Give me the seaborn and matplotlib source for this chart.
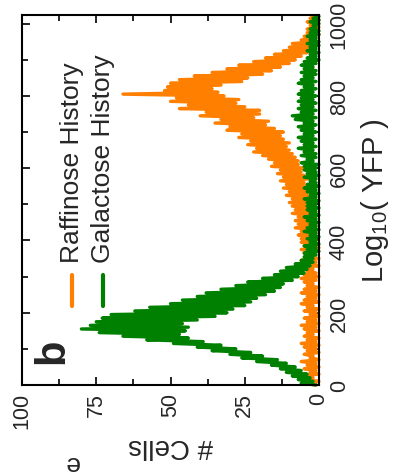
import numpy as np
import pandas as pd
import matplotlib
matplotlib.use("Agg")
import matplotlib.pyplot as plt
from matplotlib.lines import Line2D
from matplotlib.ticker import MultipleLocator
import seaborn as sns

# ---------------- data ----------------
yfp = list(range(0, 1025, 5))  # YFP channel, step 5

galactose = [
    1, 6, 2, 7, 3, 9, 4, 11, 6, 13, 8, 16, 11, 21, 14, 26, 19, 30, 23, 36,
    28, 41, 33, 49, 39, 58, 44, 66, 47, 74, 45, 80, 44, 77, 46, 75, 41, 73, 35, 70,
    31, 62, 29, 57, 25, 50, 23, 46, 21, 41, 18, 38, 15, 33, 13, 28, 12, 24, 9, 19,
    7, 15, 5, 13, 4, 11, 3, 8, 2, 6, 2, 5, 1, 5, 0, 4, 1, 5, 0, 3,
    1, 4, 0, 3, 1, 5, 0, 4, 1, 3, 0, 4, 1, 5, 0, 3, 1, 4, 0, 4,
    1, 4, 0, 5, 1, 3, 0, 4, 1, 5, 0, 4, 1, 3, 1, 5, 0, 4, 1, 5,
    1, 5, 0, 6, 2, 4, 1, 6, 1, 5, 2, 7, 1, 5, 2, 6, 1, 7, 2, 5,
    1, 6, 2, 7, 1, 5, 2, 8, 1, 9, 2, 6, 1, 7, 2, 6, 1, 7, 2, 6,
    1, 7, 2, 6, 1, 5, 2, 7, 1, 6, 2, 5, 1, 6, 1, 5, 2, 6, 1, 5,
    0, 4, 1, 3, 0, 4, 1, 3, 0, 4, 0, 3, 1, 4, 0, 3, 0, 3, 1, 2,
    0, 3, 0, 2, 0,
]

raffinose = [
    1, 5, 0, 4, 2, 6, 0, 3, 1, 5, 0, 4, 1, 6, 0, 3, 2, 5, 0, 4,
    1, 5, 0, 6, 1, 4, 0, 5, 2, 4, 0, 5, 1, 6, 0, 4, 1, 5, 0, 3,
    1, 5, 0, 4, 2, 6, 0, 5, 1, 4, 0, 6, 1, 5, 0, 4, 2, 5, 1, 6,
    0, 5, 1, 4, 2, 6, 0, 5, 1, 6, 0, 4, 2, 5, 1, 6, 0, 5, 2, 6,
    1, 6, 2, 7, 1, 6, 2, 8, 1, 7, 2, 8, 3, 7, 2, 9, 3, 8, 2, 9,
    3, 10, 2, 9, 3, 11, 4, 10, 3, 12, 4, 11, 5, 13, 4, 12, 5, 14, 6, 13,
    5, 16, 7, 15, 7, 17, 8, 19, 9, 22, 10, 21, 11, 24, 10, 23, 12, 27, 13, 26,
    12, 31, 15, 30, 18, 35, 17, 33, 22, 40, 20, 38, 20, 47, 25, 44, 28, 50, 27, 48,
    32, 66, 34, 52, 36, 51, 33, 50, 26, 47, 24, 42, 19, 36, 16, 31, 13, 27, 10, 22,
    8, 18, 6, 15, 4, 12, 3, 10, 2, 9, 1, 6, 1, 5, 0, 4, 1, 4, 0, 3,
    1, 4, 0, 3, 1,
]

series_names = ["Raffinose History", "Galactose History"]
series_colors = ["#FF8000", "#008000"]
x_ticks = [0, 25, 50, 75, 100]
y_ticks = [0, 200, 400, 600, 800, 1000]

df = pd.concat([
    pd.DataFrame({"YFP": yfp, "Cells": raffinose, "History": series_names[0]}),
    pd.DataFrame({"YFP": yfp, "Cells": galactose, "History": series_names[1]}),
], ignore_index=True)

# ---------------- style ----------------
sns.set_theme(style="ticks")
plt.rcParams["font.family"] = ["Liberation Sans", "DejaVu Sans"]
plt.rcParams["mathtext.fontset"] = "custom"
plt.rcParams["mathtext.rm"] = "Liberation Sans"
plt.rcParams["mathtext.it"] = "Liberation Sans"

W, H = 396, 477
fig = plt.figure(figsize=(W / 100, H / 100), dpi=100)
ax = fig.add_axes([22 / W, (H - 386) / H, 297 / W, 370 / H])

sns.lineplot(data=df, x="Cells", y="YFP", hue="History",
             palette=dict(zip(series_names, series_colors)),
             orient="y", estimator=None, sort=True, legend=False,
             linewidth=2.4, clip_on=False, ax=ax)

ax.set_xlim(100, 0)
ax.set_ylim(0, 1024)
ax.set_xticks(x_ticks)
ax.set_yticks(y_ticks)
ax.xaxis.set_minor_locator(MultipleLocator(12.5))
ax.yaxis.set_minor_locator(MultipleLocator(100))
ax.yaxis.tick_right()
ax.yaxis.set_label_position("right")
ax.tick_params(which="both", direction="in", top=True, bottom=True,
               left=True, right=True, labelleft=False, labelright=True,
               labelbottom=True, labeltop=False, color="black", width=1.2)
ax.tick_params(which="major", length=6, labelsize=15.5)
ax.tick_params(which="minor", length=4)
ax.tick_params(axis="x", pad=5)
ax.tick_params(axis="y", pad=7)
plt.setp(ax.get_xticklabels(), rotation=90, ha="center", va="top")
plt.setp(ax.get_yticklabels(), rotation=90, ha="left", va="center")
for s in ax.spines.values():
    s.set_linewidth(1.5)
    s.set_color("black")

ax.set_xlabel("# Cells", rotation=180, fontsize=20, labelpad=3)
ax.set_ylabel("Log$_{10}$( YFP )", rotation=90, fontsize=21, labelpad=7)

# legend (rotated, drawn manually)
for xc, name, col in [(72, series_names[0], series_colors[0]),
                      (103, series_names[1], series_colors[1])]:
    fig.text(xc / W, 1 - 263 / H, name, rotation=90, ha="center",
             va="bottom", fontsize=19)
    fig.add_artist(Line2D([xc / W, xc / W], [1 - 276 / H, 1 - 307 / H],
                          transform=fig.transFigure, color=col, lw=3))

fig.text(52 / W, 1 - 351 / H, "b", rotation=90, ha="center", va="center",
         fontsize=30, fontweight="bold")
fig.text(72 / W, 1 - 463 / H, "e", rotation=180, ha="center", va="center",
         fontsize=19)

fig.savefig("out.png", dpi=100)
